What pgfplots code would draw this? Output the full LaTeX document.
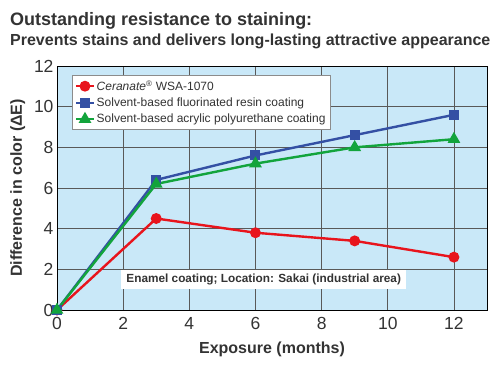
\documentclass[border=0pt]{standalone}
\usepackage{fontspec}
\setmainfont{Liberation Sans}
\usepackage{pgfplots}
\pgfplotsset{compat=1.18}
\definecolor{bgblue}{HTML}{C9E8F8}
\definecolor{cred}{HTML}{E8141C}
\definecolor{cblue}{HTML}{3450A4}
\definecolor{cgreen}{HTML}{12A43C}
\definecolor{txt}{HTML}{333333}
\begin{document}
\begin{tikzpicture}
\useasboundingbox (0pt,0pt) rectangle (500pt,-376pt);
\node[anchor=west,text=txt,font=\bfseries\fontsize{18}{20}\selectfont,inner sep=0] at (10pt,-21pt) {Outstanding resistance to staining:};
\node[anchor=west,text=txt,font=\bfseries\fontsize{16}{17}\selectfont,inner sep=0] at (10pt,-41pt) {Prevents stains and delivers long-lasting attractive appearance};
\begin{axis}[
  at={(57pt,-310pt)}, anchor=south west,
  scale only axis, width=430pt, height=244pt,
  xmin=0, xmax=13, ymin=0, ymax=12,
  xtick={0,2,...,12}, ytick={0,2,...,12},
  grid=major,
  major grid style={draw=black!65, line width=0.7pt},
  axis background/.style={fill=bgblue},
  axis line style={black, line width=0.9pt},
  tick style={draw=none},
  tick label style={text=txt, font=\fontsize{17.5}{19}\selectfont},
  xticklabel shift=4pt,
  /pgf/number format/assume math mode=true,
  xlabel={Exposure (months)}, ylabel={Difference in color (ΔE)},
  label style={text=txt, font=\bfseries\fontsize{16}{18}\selectfont},
  xlabel style={yshift=-5pt},
  ylabel style={yshift=2pt},
  legend style={at={(0.035,0.962)}, anchor=north west, draw=black!45, fill=white,
     font=\fontsize{12}{14}\selectfont, text=txt, row sep=2pt, inner sep=3pt},
  legend cell align=left,
  every axis plot/.append style={line width=2.4pt},
]
\addplot[cred, mark=*, mark size=4.2pt] coordinates {(0,0) (3,4.5) (6,3.8) (9,3.4) (12,2.6)};
\addlegendentry{\textit{Ceranate}\textsuperscript{®} WSA-1070}
\addplot[cblue, mark=square*, mark size=3.8pt] coordinates {(0,0) (3,6.4) (6,7.6) (9,8.6) (12,9.6)};
\addlegendentry{Solvent-based fluorinated resin coating}
\addplot[cgreen, mark=triangle*, mark size=5pt] coordinates {(0,0) (3,6.2) (6,7.2) (9,8.0) (12,8.4)};
\addlegendentry{Solvent-based acrylic polyurethane coating}
\node[fill=white, text=txt, font=\bfseries\fontsize{11.8}{13}\selectfont, inner xsep=5pt, inner ysep=4pt] at (axis cs:6.25,1.5) {Enamel coating; Location: Sakai (industrial area)};
\end{axis}
\end{tikzpicture}
\end{document}
